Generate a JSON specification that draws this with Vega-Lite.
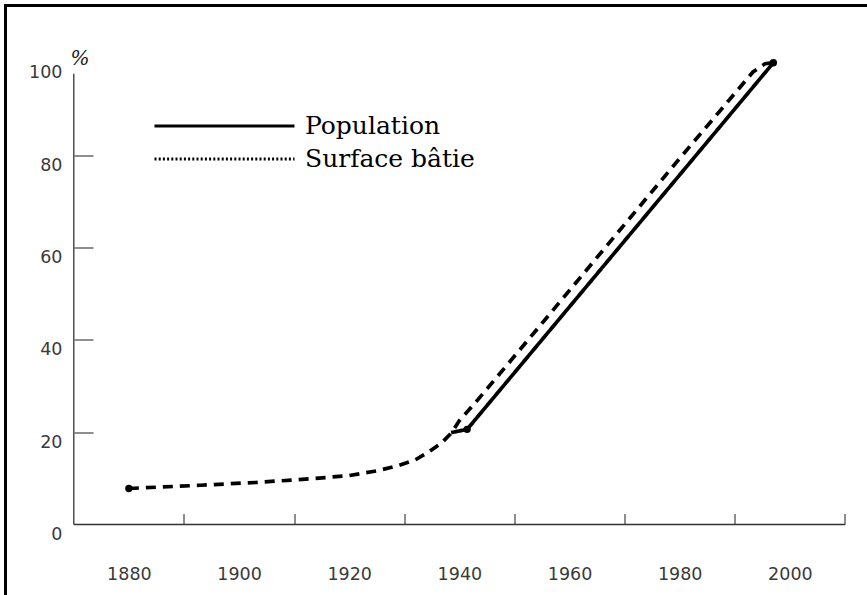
{
  "$schema": "https://vega.github.io/schema/vega-lite/v6.json",
  "width": 861.5,
  "height": 589.5,
  "autosize": {"type": "none"},
  "padding": {"left": 5.5, "top": 5.5, "right": 0, "bottom": 0},
  "background": "white",
  "config": {
    "view": {"stroke": "black", "strokeWidth": 3, "strokeDash": [861.5, 1451, 600]},
    "axis": {"labelFont": "DejaVu Sans", "labelFontSize": 17.5, "labelColor": "#3a3a3a", "tickColor": "#444", "tickWidth": 1.2, "grid": false, "domain": false},
    "legend": {
      "orient": "none", "legendX": 206.5, "legendY": 108, "title": null,
      "symbolType": "M-7,0H7", "symbolSize": 400, "symbolStrokeColor": "black", "symbolStrokeWidth": 2.8,
      "labelFont": "DejaVu Serif", "labelFontSize": 25, "labelColor": "black", "labelOffset": 68, "labelLimit": 400,
      "rowPadding": 7, "padding": 0
    }
  },
  "resolve": {"scale": {"strokeDash": "independent"}, "legend": {"strokeDash": "independent"}},
  "data": {
    "values": [
      {"serie": "Population", "annee": 1938.5, "valeur": 19.9},
      {"serie": "Population", "annee": 1941.4, "valeur": 20.6},
      {"serie": "Population", "annee": 1997, "valeur": 100},
      {"serie": "Surface bâtie", "annee": 1880, "valeur": 7.8},
      {"serie": "Surface bâtie", "annee": 1893, "valeur": 8.5},
      {"serie": "Surface bâtie", "annee": 1903, "valeur": 9.1},
      {"serie": "Surface bâtie", "annee": 1913, "valeur": 9.9},
      {"serie": "Surface bâtie", "annee": 1920, "valeur": 10.6},
      {"serie": "Surface bâtie", "annee": 1925, "valeur": 11.6},
      {"serie": "Surface bâtie", "annee": 1929, "valeur": 12.8},
      {"serie": "Surface bâtie", "annee": 1932, "valeur": 14.0},
      {"serie": "Surface bâtie", "annee": 1934.3, "valeur": 15.6},
      {"serie": "Surface bâtie", "annee": 1936.8, "valeur": 17.7},
      {"serie": "Surface bâtie", "annee": 1938.6, "valeur": 19.9},
      {"serie": "Surface bâtie", "annee": 1940, "valeur": 22.5},
      {"serie": "Surface bâtie", "annee": 1943.4, "valeur": 27.1},
      {"serie": "Surface bâtie", "annee": 1952.5, "valeur": 40},
      {"serie": "Surface bâtie", "annee": 1966.5, "valeur": 60},
      {"serie": "Surface bâtie", "annee": 1980.5, "valeur": 80},
      {"serie": "Surface bâtie", "annee": 1993.3, "valeur": 98},
      {"serie": "Surface bâtie", "annee": 1995.5, "valeur": 99.8},
      {"serie": "Surface bâtie", "annee": 1997, "valeur": 100}
    ]
  },
  "layer": [
    {
      "mark": {"type": "line", "color": "black", "strokeWidth": 3.7, "strokeCap": "butt"},
      "encoding": {
        "x": {
          "field": "annee", "type": "quantitative",
          "scale": {"domain": [1857.6, 2014.0], "nice": false, "zero": false},
          "axis": {
            "title": null, "orient": "bottom", "offset": -70.5,
            "values": [1880, 1900, 1920, 1940, 1960, 1980, 2000],
            "format": "d", "tickSize": -11, "tickOffset": 55.08, "labelOffset": -55.08,
            "labelPadding": 52
          }
        },
        "y": {
          "field": "valeur", "type": "quantitative",
          "scale": {"domain": [-15.27, 112.4], "nice": false, "zero": false},
          "axis": {
            "title": "%", "orient": "left", "offset": -68.5,
            "values": [0, 20, 40, 60, 80, 100],
            "tickSize": -19, "labelPadding": 31, "labelOffset": 10,
            "tickOpacity": {"condition": {"test": "datum.value >= 100 || datum.value <= 0", "value": 0}, "value": 1},
            "titleAngle": 0, "titleFont": "DejaVu Serif", "titleFontStyle": "italic", "titleFontWeight": "normal",
            "titleFontSize": 20, "titleColor": "#222", "titleX": -4, "titleY": 52.5, "titleAlign": "left", "titleBaseline": "middle"
          }
        },
        "strokeDash": {
          "field": "serie", "type": "nominal",
          "scale": {"domain": ["Population", "Surface bâtie"], "range": [[1, 0], [10, 7]]},
          "legend": null
        }
      }
    },
    {
      "transform": [{"filter": "false"}],
      "mark": {"type": "line", "color": "black"},
      "encoding": {
        "x": {"field": "annee", "type": "quantitative"},
        "y": {"field": "valeur", "type": "quantitative"},
        "strokeDash": {
          "field": "serie", "type": "nominal",
          "scale": {"domain": ["Population", "Surface bâtie"], "range": [[1, 0], [2, 2.2]]}
        }
      }
    },
    {
      "transform": [{"filter": "(datum.serie === 'Population' && datum.annee > 1940) || (datum.serie === 'Surface bâtie' && datum.annee === 1880)"}],
      "mark": {"type": "circle", "color": "black", "size": 55, "opacity": 1},
      "encoding": {
        "x": {"field": "annee", "type": "quantitative"},
        "y": {"field": "valeur", "type": "quantitative"}
      }
    },
    {
      "data": {"values": [{}]},
      "mark": {"type": "rule", "color": "#333", "strokeWidth": 1.3},
      "encoding": {
        "x": {"datum": 1870, "type": "quantitative"},
        "y": {"datum": 0, "type": "quantitative"},
        "y2": {"datum": 97.6}
      }
    },
    {
      "data": {"values": [{}]},
      "mark": {"type": "rule", "color": "#333", "strokeWidth": 1.3},
      "encoding": {
        "x": {"datum": 1870, "type": "quantitative"},
        "x2": {"datum": 2010},
        "y": {"datum": 0, "type": "quantitative"}
      }
    }
  ]
}
